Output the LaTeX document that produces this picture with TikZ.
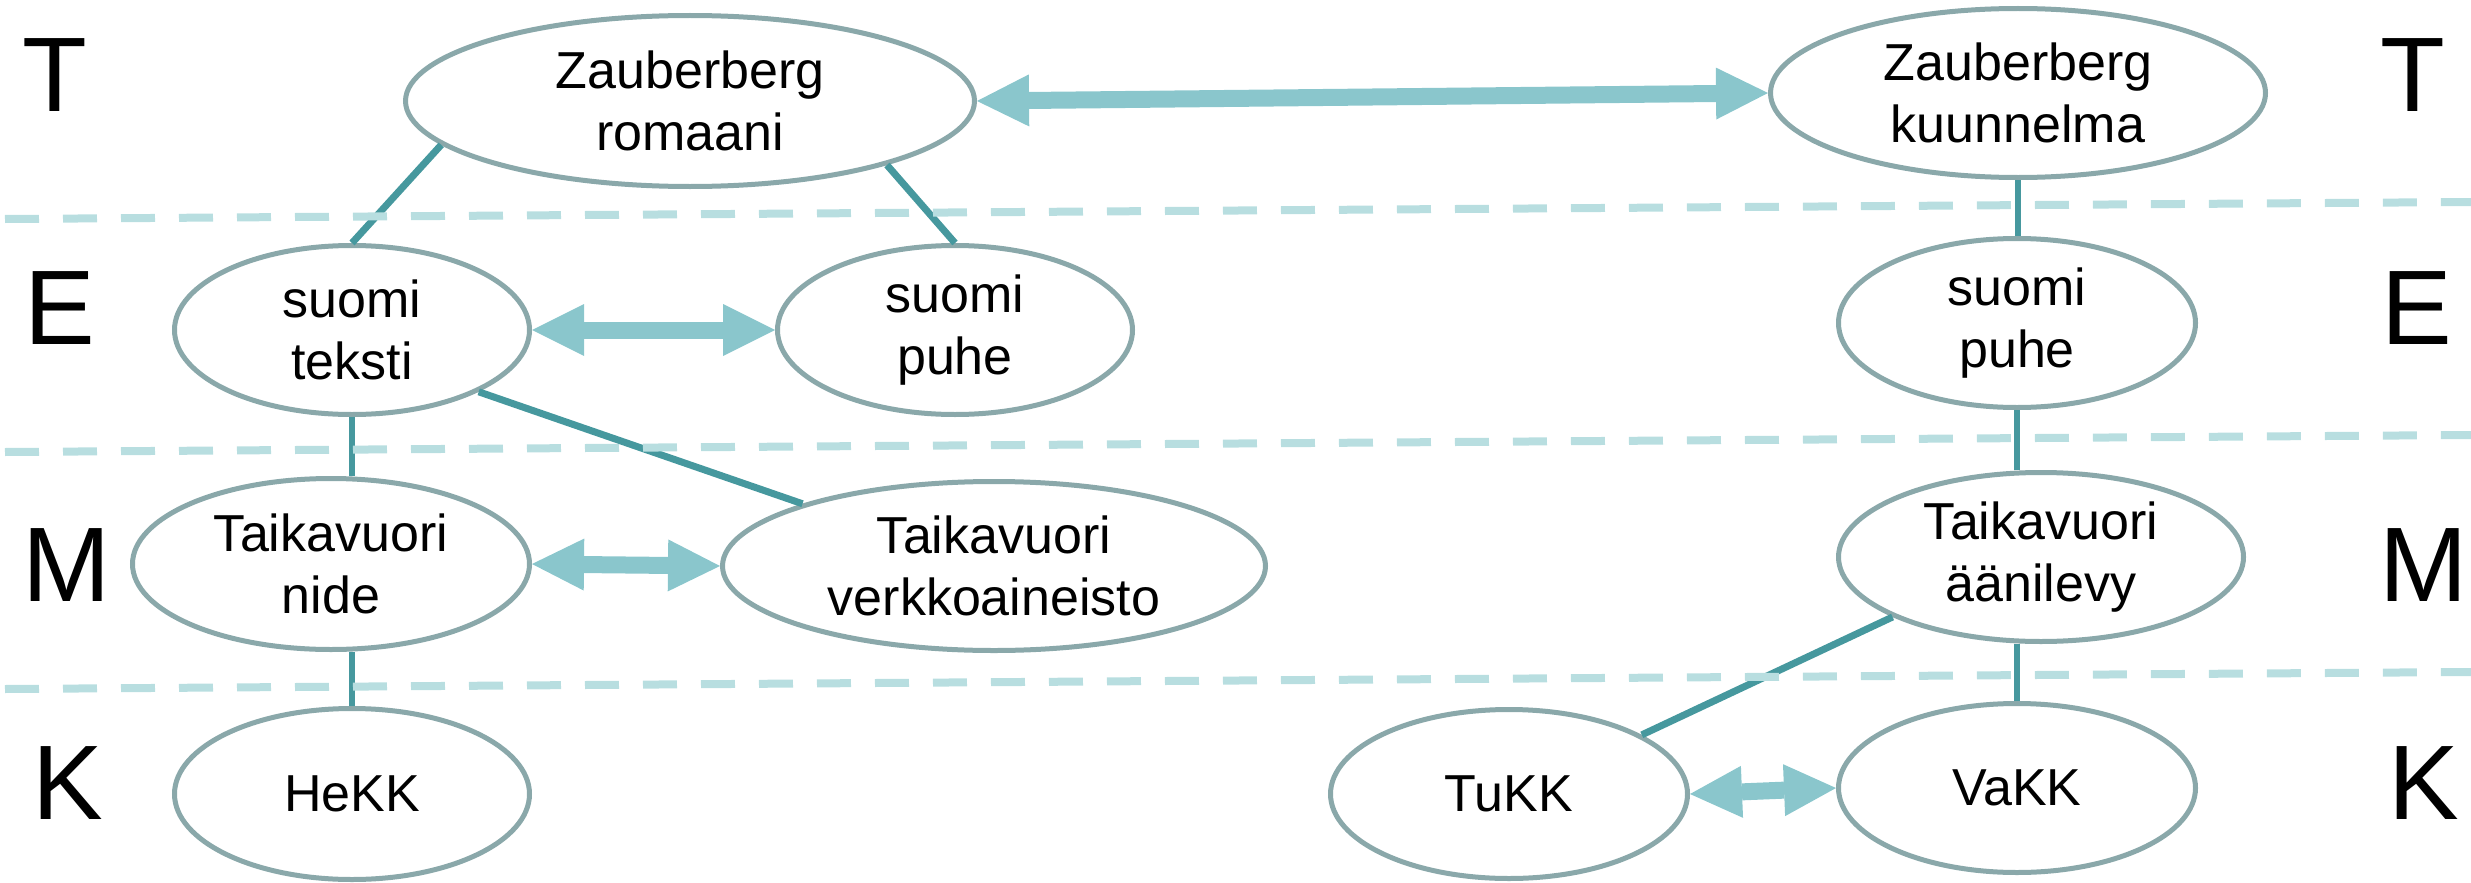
\documentclass[tikz,border=0pt]{standalone}
\usepackage{fontspec}
\setmainfont{Liberation Sans}
\usetikzlibrary{arrows.meta,shapes.geometric}
\definecolor{ellc}{HTML}{8AA8AA}
\definecolor{conc}{HTML}{46989E}
\definecolor{arrc}{HTML}{8AC6CC}
\definecolor{dashc}{HTML}{B8DEE0}
\begin{document}
\begin{tikzpicture}[x=1pt,y=-1pt,
  ell/.style={ellipse, draw=ellc, line width=5pt, fill=white, inner sep=0pt, align=center, text=black, font=\fontsize{52pt}{62pt}\selectfont},
  conn/.style={draw=conc, line width=7pt},
  vconn/.style={draw=conc, line width=6pt},
  biarrow/.style={draw=arrc, line width=17pt, arrows={Triangle[length=52pt,width=52pt,line width=0pt]-Triangle[length=52pt,width=52pt,line width=0pt]}},
  levelline/.style={draw=dashc, line width=8pt, dash pattern=on 34pt off 24pt},
  lvl/.style={inner sep=0pt, text=black, font=\fontsize{106pt}{106pt}\selectfont}]
\useasboundingbox (0,0) rectangle (2471,883);

% level letters
\node[lvl] (tL) at (55,75) {T};
\node[lvl] (eL) at (60,308) {E};
\node[lvl] (mL) at (67,565) {M};
\node[lvl] (kL) at (68,783) {K};
\node[lvl] (tR) at (2413,75) {T};
\node[lvl] (eR) at (2417,308) {E};
\node[lvl] (mR) at (2424,565) {M};
\node[lvl] (kR) at (2424,783) {K};

% nodes
\node[ell, minimum width=569pt, minimum height=171pt] (rom) at (690,101) {Zauberberg\\romaani};
\node[ell, minimum width=495pt, minimum height=169pt] (kuun) at (2018,93) {Zauberberg\\kuunnelma};
\node[ell, minimum width=355pt, minimum height=169pt] (tek) at (352,330) {suomi\\teksti};
\node[ell, minimum width=355pt, minimum height=169pt] (puhe) at (955,330) {suomi\\puhe};
\node[ell, minimum width=357pt, minimum height=169pt] (puhe2) at (2017,323) {suomi\\puhe};
\node[ell, minimum width=397pt, minimum height=171pt] (nide) at (331,564) {Taikavuori\\nide};
\node[ell, minimum width=543pt, minimum height=169pt] (verk) at (994,566) {Taikavuori\\verkkoaineisto};
\node[ell, minimum width=355pt, minimum height=171pt] (hekk) at (352,794) {HeKK};
\node[ell, minimum width=405pt, minimum height=169pt] (aani) at (2041,557) {Taikavuori\\äänilevy};
\node[ell, minimum width=357pt, minimum height=169pt] (tukk) at (1509,794) {TuKK};
\node[ell, minimum width=357pt, minimum height=169pt] (vakk) at (2017,788) {VaKK};

% connectors
\draw[conn] (rom.190.8) -- (tek.north);
\draw[conn] (rom.342.9) -- (puhe.north);
\draw[conn] (tek.334.3) -- (verk.162.9);
\draw[vconn] (tek.south) -- (tek.south |- nide.north);
\draw[vconn] (hekk.north |- nide.south) -- (hekk.north);
\draw[vconn] (kuun.south) -- (kuun.south |- puhe2.north);
\draw[vconn] (puhe2.south) -- (puhe2.south |- aani.north);
\draw[vconn] (vakk.north |- aani.south) -- (vakk.north);
\draw[conn] (aani.202.7) -- (tukk.24.9);

% two-way arrows
\draw[biarrow] (rom.east) -- (kuun.west);
\draw[biarrow] (tek.east) -- (puhe.west);
\draw[biarrow] (nide.east) -- (verk.west);
\draw[biarrow] (tukk.east) -- (vakk.west);

% level separators
\coordinate (l1a) at (5,219);
\coordinate (l1b) at (2471,202);
\coordinate (l2a) at (5,452);
\coordinate (l2b) at (2471,435);
\coordinate (l3a) at (5,689);
\coordinate (l3b) at (2471,672);
\draw[levelline] (l1a) -- (l1b);
\draw[levelline] (l2a) -- (l2b);
\draw[levelline] (l3a) -- (l3b);
\end{tikzpicture}
\end{document}
